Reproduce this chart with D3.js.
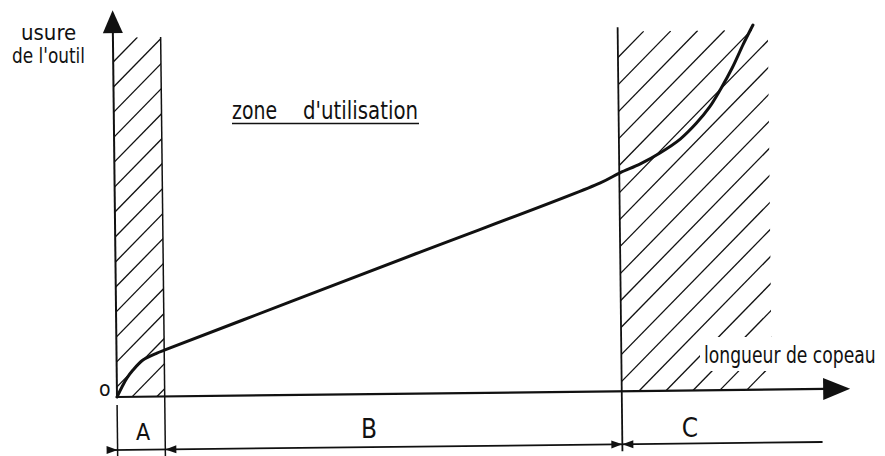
<!DOCTYPE html>
<html>
<head>
<meta charset="utf-8">
<script src="https://cdn.jsdelivr.net/npm/d3@7"></script>
<style>
  body { margin: 0; background: #fff; }
  text { font-family: "Liberation Sans Narrow", "DejaVu Sans Condensed", "DejaVu Sans", sans-serif; fill: #111; }
</style>
</head>
<body>
<div id="chart"></div>
<script>
// tool wear vs chip length, arbitrary units (0-100 on both axes)
const chipLength = [0, 0.14, 0.72, 1.45, 2.31, 3.74, 5.74, 6.88, 24.7, 42.6, 68.9, 71.7, 74.6, 77.4, 80.3, 82.6, 84.5, 86.1, 87.8, 89.4, 90.8]
const toolWear   = [0, 0.53, 2.61, 4.97, 7.05, 9.66, 11.45, 12.24, 24.5, 36.8, 54.9, 57.5, 59.8, 62.6, 66.2, 70.3, 74.5, 79.2, 84.8, 91.0, 96.0]

const zoneNames = ['A', 'B', 'C']
const zoneEdges = [0, 6.77, 71.6, 100]
const hatchZones = [{x0: 0, x1: 6.77, top: 94.6}, {x0: 71.6, x1: 92.9, top: 94.7}]

const xAxisEnd = 104
const yAxisEnd = 101.8

const width = 885
const height = 456
const originX = 117
const originY = 397
const tilt = -0.65   // the scan is slightly rotated

const x = d3.scaleLinear().domain([0, 100]).range([0, 705])
const y = d3.scaleLinear().domain([0, 100]).range([0, -380])

const ink = '#111'

const svg = d3.select('#chart')
              .append('svg')
              .attr('width', width)
              .attr('height', height)

svg.append('rect').attr('width', width).attr('height', height).attr('fill', '#fff')

const g = svg.append('g')
             .attr('transform', `translate(${originX}, ${originY}) rotate(${tilt})`)

// hatched zones
const hatchSteps = [25, 27]
const hatchPhase = [-310, 171]
hatchZones.forEach((z, i) => {
    const left = x(z.x0), right = x(z.x1), top = y(z.top)
    const id = 'clip' + i
    g.append('clipPath').attr('id', id)
     .append('rect')
     .attr('x', left).attr('y', top)
     .attr('width', right - left).attr('height', -top)
    const cs = []
    for (let c = hatchPhase[i]; c >= left + top; c -= hatchSteps[i]) cs.push(c)
    for (let c = hatchPhase[i] + hatchSteps[i]; c <= right; c += hatchSteps[i]) cs.push(c)
    g.append('g')
     .attr('clip-path', `url(#${id})`)
     .selectAll('line')
     .data(cs)
     .enter().append('line')
     .attr('x1', c => c).attr('y1', 0)
     .attr('x2', c => c - top).attr('y2', top)
     .attr('stroke', ink)
     .attr('stroke-width', 1.3)
})

// zone boundaries (A right edge, C left edge)
g.append('line')
 .attr('x1', x(zoneEdges[1])).attr('y1', y(hatchZones[0].top))
 .attr('x2', x(zoneEdges[1])).attr('y2', 60)
 .attr('stroke', ink).attr('stroke-width', 1.5)
g.append('line')
 .attr('x1', x(zoneEdges[2])).attr('y1', y(95.8))
 .attr('x2', x(zoneEdges[2])).attr('y2', 60)
 .attr('stroke', ink).attr('stroke-width', 1.8)

// axes
g.append('line')
 .attr('x1', 0).attr('y1', 0)
 .attr('x2', 0).attr('y2', y(yAxisEnd) + 22)
 .attr('stroke', ink).attr('stroke-width', 2)
g.append('path')
 .attr('d', `M0,${y(yAxisEnd)} L-10,${y(yAxisEnd) + 23} L10,${y(yAxisEnd) + 23} Z`)
 .attr('fill', ink)
g.append('line')
 .attr('x1', 0).attr('y1', 0)
 .attr('x2', x(xAxisEnd) - 25).attr('y2', 0)
 .attr('stroke', ink).attr('stroke-width', 2.2)
g.append('path')
 .attr('d', `M${x(xAxisEnd)},0 L${x(xAxisEnd) - 27},-11 L${x(xAxisEnd) - 27},11 Z`)
 .attr('fill', ink)

// wear curve
const line = d3.line()
               .x(d => x(d[0]))
               .y(d => y(d[1]))
               .curve(d3.curveCatmullRom.alpha(0.5))
g.append('path')
 .datum(chipLength.map((v, i) => [v, toolWear[i]]))
 .attr('d', line)
 .attr('fill', 'none')
 .attr('stroke', ink)
 .attr('stroke-width', 3)
 .attr('stroke-linecap', 'round')

// dimension line under the axis
const dimY = 53
g.append('line')
 .attr('x1', x(zoneEdges[0]) - 10).attr('y1', dimY)
 .attr('x2', x(zoneEdges[3])).attr('y2', dimY)
 .attr('stroke', ink).attr('stroke-width', 1.8)
g.append('line')
 .attr('x1', 0).attr('y1', 8)
 .attr('x2', 0).attr('y2', 62)
 .attr('stroke', ink).attr('stroke-width', 1.5)

const arrows = [
    {at: zoneEdges[0], dir: -1},
    {at: zoneEdges[1], dir: 1},
    {at: zoneEdges[2], dir: -1},
    {at: zoneEdges[2], dir: 1}
]
g.selectAll('.dim-arrow')
 .data(arrows)
 .enter().append('path')
 .attr('class', 'dim-arrow')
 .attr('d', d => `M${x(d.at)},${dimY} L${x(d.at) + d.dir * 11},${dimY - 4} L${x(d.at) + d.dir * 11},${dimY + 4} Z`)
 .attr('fill', ink)

// labels
svg.append('text').attr('x', 21).attr('y', 40).attr('font-size', 22).text('usure')
svg.append('text').attr('x', 12).attr('y', 63).attr('font-size', 22)
   .attr('textLength', 73).attr('lengthAdjust', 'spacingAndGlyphs').text("de l'outil")

svg.append('text').attr('x', 232).attr('y', 119).attr('font-size', 24)
   .attr('textLength', 45).attr('lengthAdjust', 'spacingAndGlyphs').text('zone')
svg.append('text').attr('x', 303).attr('y', 119).attr('font-size', 24)
   .attr('textLength', 115).attr('lengthAdjust', 'spacingAndGlyphs').text("d'utilisation")
svg.append('line')
   .attr('x1', 232).attr('y1', 123.5).attr('x2', 419).attr('y2', 123.5)
   .attr('stroke', ink).attr('stroke-width', 1.6)

svg.append('rect').attr('x', 700).attr('y', 337).attr('width', 80).attr('height', 34).attr('fill', '#fff')
svg.append('text')
   .attr('transform', 'translate(704, 363) scale(0.83, 1)')
   .attr('font-size', 23)
   .text('longueur de copeau')

svg.append('text').attr('x', 99).attr('y', 396).attr('font-size', 21).text('o')

const letterPos = [{cx: 143, y: 440, size: 23}, {cx: 369, y: 438, size: 26}, {cx: 690, y: 437, size: 26}]
svg.selectAll('.zone-label')
   .data(zoneNames)
   .enter().append('text')
   .attr('class', 'zone-label')
   .attr('x', (d, i) => letterPos[i].cx)
   .attr('y', (d, i) => letterPos[i].y)
   .attr('font-size', (d, i) => letterPos[i].size)
   .attr('text-anchor', 'middle')
   .text(d => d)
</script>
</body>
</html>
